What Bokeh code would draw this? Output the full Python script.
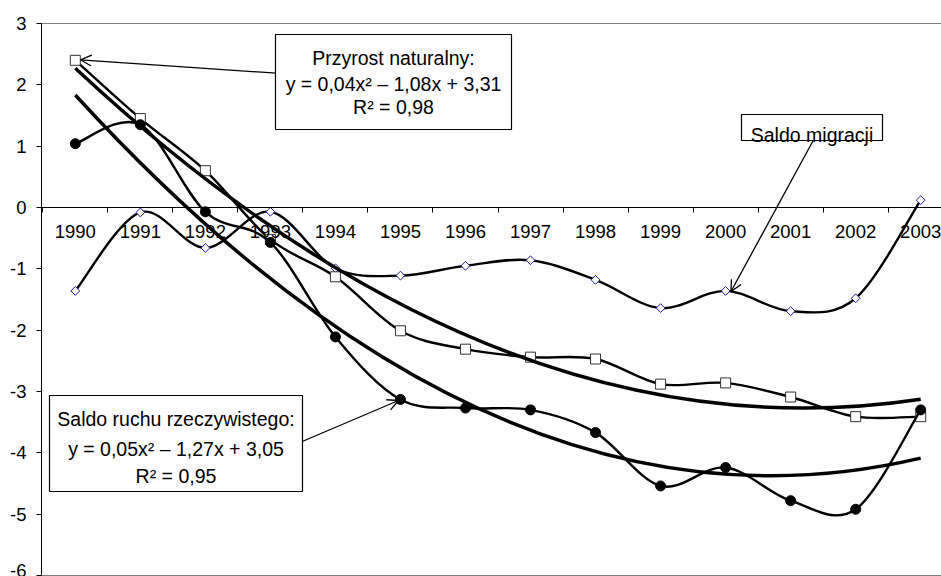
import numpy as np
from bokeh.plotting import figure
from bokeh.models import (Range1d, FixedTicker, LinearAxis, Span, Label, Arrow,
                          OpenHead, BoxAnnotation)
from bokeh.embed import file_html
from bokeh.resources import INLINE

# ---------------- data ----------------
years = [1990, 1991, 1992, 1993, 1994, 1995, 1996, 1997, 1998, 1999, 2000, 2001, 2002, 2003]
year_labels = [str(y) for y in years]
przyrost_naturalny = [2.40, 1.45, 0.60, -0.52, -1.13, -2.01, -2.31, -2.44, -2.47, -2.88, -2.86, -3.09, -3.41, -3.41]
saldo_ruchu = [1.04, 1.35, -0.07, -0.57, -2.11, -3.13, -3.27, -3.30, -3.67, -4.54, -4.24, -4.78, -4.92, -3.30]
saldo_migracji = [-1.36, -0.08, -0.66, -0.07, -0.99, -1.11, -0.95, -0.86, -1.18, -1.64, -1.36, -1.69, -1.48, 0.12]
y_ticks = [-6, -5, -4, -3, -2, -1, 0, 1, 2, 3]
y_tick_labels = ["-6", "-5", "-4", "-3", "-2", "-1", "0", "1", "2", "3"]

FONT = "Liberation Sans"

# ---------------- layout helpers ----------------
X0, X1 = 1989.48, 2003.32
Y0, Y1 = -6, 3
FL, FT, FW, FH = 41, 23, 900, 552
PXU = FW / (X1 - X0)
PYU = FH / (Y1 - Y0)


def dx(px):
    return X0 + (px - FL) / PXU


def dy(py):
    return Y1 - (py - FT) / PYU


def smooth_segments(xs, ys):
    pts = np.column_stack([np.asarray(xs, float), np.asarray(ys, float)])
    n = len(pts)
    out = {k: [] for k in ("x0", "y0", "x1", "y1", "cx0", "cy0", "cx1", "cy1")}
    for i in range(n - 1):
        p0 = pts[i - 1] if i > 0 else pts[i]
        p1 = pts[i]
        p2 = pts[i + 1]
        p3 = pts[i + 2] if i + 2 < n else pts[i + 1]
        c1 = p1 + (p2 - p0) / 6.0
        c2 = p2 - (p3 - p1) / 6.0
        out["x0"].append(p1[0]); out["y0"].append(p1[1])
        out["x1"].append(p2[0]); out["y1"].append(p2[1])
        out["cx0"].append(c1[0]); out["cy0"].append(c1[1])
        out["cx1"].append(c2[0]); out["cy1"].append(c2[1])
    return out


def quad_trend(vals):
    t = np.arange(1, len(years) + 1, dtype=float)
    a, b, c = np.polyfit(t, np.asarray(vals, float), 2)
    t0, t1 = t[0], t[-1]
    tm = (t0 + t1) / 2
    y0 = a * t0 ** 2 + b * t0 + c
    y1 = a * t1 ** 2 + b * t1 + c
    cy = y0 + (2 * a * t0 + b) * (tm - t0)
    return dict(x0=[years[0]], y0=[y0], x1=[years[-1]], y1=[y1],
                cx=[(years[0] + years[-1]) / 2], cy=[cy])


# ---------------- figure ----------------
p = figure(width=FL + FW, height=FT + FH + 1, x_range=Range1d(X0, X1), y_range=Range1d(Y0, Y1),
           output_backend="svg", toolbar_location=None, x_axis_location=None,
           min_border_left=FL, min_border_right=0, min_border_top=FT,
           min_border_bottom=1)
p.outline_line_color = None
p.xgrid.visible = False
p.ygrid.visible = False
p.background_fill_color = "white"
p.border_fill_color = "white"

# y axis
p.yaxis.ticker = FixedTicker(ticks=y_ticks)
p.yaxis.major_label_overrides = {v: s for v, s in zip(y_ticks, y_tick_labels)}
p.yaxis.minor_tick_line_color = None
p.yaxis.major_tick_in = 0
p.yaxis.major_tick_out = 5
p.yaxis.major_label_standoff = 10
p.yaxis.major_label_text_font = FONT
p.yaxis.major_label_text_font_size = "18.5px"
p.yaxis.major_label_text_color = "black"
p.yaxis.axis_line_color = "black"
p.yaxis.major_tick_line_color = "black"

# x axis crossing at y = 0: year labels centred, ticks on category boundaries
boundaries = [y - 0.5 for y in years] + [years[-1] + 0.5]
xax = LinearAxis(ticker=FixedTicker(ticks=years, minor_ticks=boundaries), fixed_location=0,
                 major_tick_line_color=None, major_tick_in=0, major_tick_out=0,
                 minor_tick_line_color="black", minor_tick_in=0, minor_tick_out=5,
                 axis_line_color="black",
                 major_label_overrides={y: s for y, s in zip(years, year_labels)},
                 major_label_standoff=12, major_label_text_font=FONT,
                 major_label_text_font_size="18.5px", major_label_text_color="black")
p.add_layout(xax, "below")

p.add_layout(Span(location=Y1, dimension="width", line_color="black", line_width=1))
p.add_layout(Span(location=Y0, dimension="width", line_color="black", line_width=1))

# ---------------- series ----------------
# Saldo migracji
p.bezier(**smooth_segments(years, saldo_migracji), line_color="black", line_width=2.4)
p.scatter(years, saldo_migracji, marker="square", angle=np.pi / 4, size=6.2,
          line_color="#1a1a99", line_width=1, fill_color="white")

# Przyrost naturalny
p.bezier(**smooth_segments(years, przyrost_naturalny), line_color="black", line_width=2.4)
p.scatter(years, przyrost_naturalny, marker="square", size=10,
          line_color="#333333", line_width=1, fill_color="white")

# Saldo ruchu rzeczywistego
p.bezier(**smooth_segments(years, saldo_ruchu), line_color="black", line_width=2.4)
p.scatter(years, saldo_ruchu, marker="circle", size=10,
          line_color="black", fill_color="black")

# trend lines (2nd order polynomial fits)
p.quadratic(**quad_trend(przyrost_naturalny), line_color="black", line_width=3.4)
p.quadratic(**quad_trend(saldo_ruchu), line_color="black", line_width=3.4)

# ---------------- annotations ----------------
def box(l, t, r, b):
    p.add_layout(BoxAnnotation(left=dx(l), right=dx(r), top=dy(t), bottom=dy(b),
                               fill_color="white", fill_alpha=1, line_color="black",
                               line_alpha=1, line_width=1.2))


def text(px, py, s, size="19.5px"):
    p.add_layout(Label(x=dx(px), y=dy(py), text=s, text_align="center",
                       text_baseline="alphabetic", text_font=FONT,
                       text_font_size=size, text_color="black"))


def arrow(x0, y0, x1, y1):
    p.add_layout(Arrow(end=OpenHead(size=11, line_width=1.3, line_color="black"),
                       x_start=dx(x0), y_start=dy(y0), x_end=dx(x1), y_end=dy(y1),
                       line_width=1.3, line_color="black"))


arrow(276, 72.7, 80, 59.3)
arrow(301.7, 441, 398, 400)
arrow(812.7, 140, 730.5, 291)

box(275, 34, 511, 129)
text(393, 57, "Przyrost naturalny:")
text(393, 83, "y = 0,04x\u00b2 \u2013 1,08x + 3,31")
text(393, 106, "R\u00b2 = 0,98")

box(49, 395, 302, 491)
text(175.5, 418, "Saldo ruchu rzeczywistego:")
text(175.5, 448, "y = 0,05x\u00b2 \u2013 1,27x + 3,05")
text(175.5, 475, "R\u00b2 = 0,95")

box(741, 114, 882, 140)
text(811.5, 134, "Saldo migracji")

open("out.html", "w").write(file_html(p, INLINE))
